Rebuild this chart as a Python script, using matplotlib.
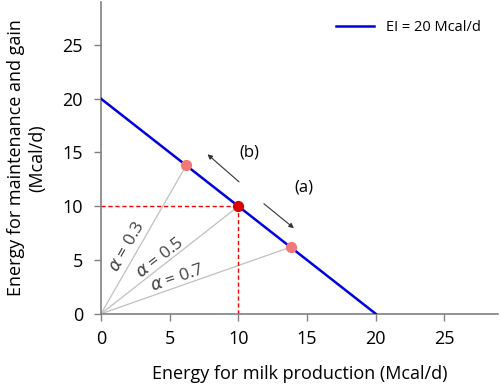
import matplotlib.pyplot as plt

plt.rcParams['font.family'] = ['Open Sans', 'DejaVu Sans']

# energy intake line EI = 20 Mcal/d
ei_x = [0, 20]
ei_y = [20, 0]

# partition points for alpha = 0.3, 0.5, 0.7
alphas = [0.3, 0.5, 0.7]
pt_x = [6.2, 10, 13.8]
pt_y = [13.8, 10, 6.2]

fig = plt.figure(figsize=(5, 3.86), dpi=100)
ax = fig.add_axes([0.202, 0.187, 0.794, 0.808])

# gray rays from origin
for x, y in zip(pt_x, pt_y):
    ax.plot([0, x], [0, y], color='#c0c0c0', lw=0.9, zorder=1)

# red dashed guides at the middle point
ax.plot([0, pt_x[1]], [pt_y[1], pt_y[1]], color='red', ls='--', lw=1, dashes=(3, 2), zorder=2)
ax.plot([pt_x[1], pt_x[1]], [0, pt_y[1]], color='red', ls='--', lw=1, dashes=(3, 2), zorder=2)

ax.plot(ei_x, ei_y, color='#0000dd', lw=1.8, label='EI = 20 Mcal/d', zorder=3)

ax.scatter([pt_x[0], pt_x[2]], [pt_y[0], pt_y[2]], s=50, color='#f07878', zorder=4)
ax.scatter([pt_x[1]], [pt_y[1]], s=50, color='#dd0000', zorder=5)

# alpha labels along the rays
lab_kw = dict(ha='center', va='center', fontsize=12.5, color='#444444')
ax.text(1.95, 6.2, r'$\alpha$ = 0.3', rotation=60.5, **lab_kw)
ax.text(4.3, 5.2, r'$\alpha$ = 0.5', rotation=38, **lab_kw)
ax.text(5.6, 3.3, r'$\alpha$ = 0.7', rotation=19, **lab_kw)

# arrows
ax.annotate('', xy=(7.6, 15.0), xytext=(10.2, 12.1),
            arrowprops=dict(arrowstyle='-|>', color='#333333', lw=0.8, mutation_scale=7))
ax.annotate('', xy=(14.2, 7.8), xytext=(11.7, 10.4),
            arrowprops=dict(arrowstyle='-|>', color='#333333', lw=0.8, mutation_scale=7))
ax.text(10.8, 15.0, '(b)', fontsize=12, ha='center', va='center')
ax.text(14.8, 11.7, '(a)', fontsize=12, ha='center', va='center')

ax.set_xlim(0, 28.9)
ax.set_ylim(0, 29)
ax.set_xticks([0, 5, 10, 15, 20, 25])
ax.set_yticks([0, 5, 10, 15, 20, 25])
ax.tick_params(labelsize=13, color='#808080', length=5, width=1)
ax.tick_params(axis='x', pad=7)
ax.tick_params(axis='y', pad=8)
for s in ['top', 'right']:
    ax.spines[s].set_visible(False)
for s in ['left', 'bottom']:
    ax.spines[s].set_color('#808080')
    ax.spines[s].set_linewidth(1.2)

ax.set_xlabel('Energy for milk production (Mcal/d)', fontsize=13, labelpad=12)
ax.set_ylabel('Energy for maintenance and gain\n(Mcal/d)', fontsize=13, labelpad=12)

ax.legend(loc='upper right', frameon=False, fontsize=10.5, handlelength=2.6,
          bbox_to_anchor=(0.99, 0.985))

fig.savefig('out.png', dpi=100)
